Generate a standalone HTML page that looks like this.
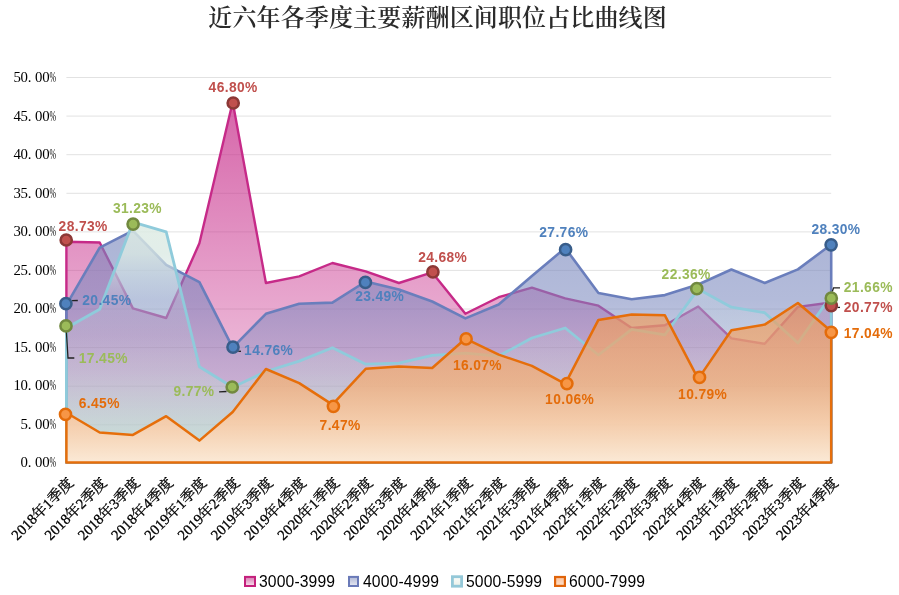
<!DOCTYPE html>
<html lang="zh-CN"><head><meta charset="utf-8"><title>近六年各季度主要薪酬区间职位占比曲线图</title>
<style>
html,body{margin:0;padding:0;background:#fff;}
body{width:899px;height:595px;overflow:hidden;}
svg{display:block;}
.title{font-family:"Liberation Serif","Noto Serif CJK SC",serif;font-size:24px;font-weight:600;fill:#2b2b2b;letter-spacing:0.13px;}
.yl{font-family:"Liberation Serif",serif;font-size:14.8px;fill:#000;}
.xl{font-family:"Liberation Serif","Noto Serif CJK SC",serif;font-size:14.7px;fill:#000;stroke:#000;stroke-width:0.3px;}
.lg{font-family:"Liberation Sans","Noto Sans CJK SC",sans-serif;font-size:15.7px;fill:#000;letter-spacing:0.12px;}
.dl{font-family:"Liberation Sans","Noto Sans CJK SC",sans-serif;font-size:13.8px;font-weight:bold;letter-spacing:0.38px;}
.grid line{stroke:#e2e2e2;stroke-width:1;}
.ld{stroke:#222;stroke-width:1.3;fill:none;}
</style></head><body>
<svg width="899" height="595" viewBox="0 0 899 595">
<defs>
<linearGradient id="gm" x1="0" y1="0" x2="0" y2="1"><stop offset="0" stop-color="#c8308c" stop-opacity="0.74"/><stop offset="1" stop-color="#c8308c" stop-opacity="0.18"/></linearGradient>
<linearGradient id="gb" x1="0" y1="0" x2="0" y2="1"><stop offset="0" stop-color="#7886bc" stop-opacity="0.62"/><stop offset="0.3" stop-color="#7a88be" stop-opacity="0.57"/><stop offset="0.56" stop-color="#7b89be" stop-opacity="0.38"/><stop offset="1" stop-color="#7b89be" stop-opacity="0.16"/></linearGradient>
<linearGradient id="gc" x1="0" y1="0" x2="0" y2="1">
<stop offset="0" stop-color="#deece4" stop-opacity="0.85"/>
<stop offset="0.13" stop-color="#dae9e3" stop-opacity="0.78"/>
<stop offset="0.33" stop-color="#cfe4e8" stop-opacity="0.2"/>
<stop offset="0.47" stop-color="#cce8e0" stop-opacity="0.12"/>
<stop offset="0.62" stop-color="#c4e8d8" stop-opacity="0.22"/>
<stop offset="0.75" stop-color="#bee8d4" stop-opacity="0.42"/>
<stop offset="0.92" stop-color="#bee8d4" stop-opacity="0.68"/>
<stop offset="1" stop-color="#bee8d4" stop-opacity="0.72"/>
</linearGradient>
<linearGradient id="lm" x1="0" y1="0" x2="0" y2="1"><stop offset="0" stop-color="#d678b0"/><stop offset="1" stop-color="#f8e2ee"/></linearGradient>
<linearGradient id="lb" x1="0" y1="0" x2="0" y2="1"><stop offset="0" stop-color="#b0b8d6"/><stop offset="1" stop-color="#e6e8f2"/></linearGradient>
<linearGradient id="lc" x1="0" y1="0" x2="0" y2="1"><stop offset="0" stop-color="#fbfcfa"/><stop offset="1" stop-color="#eaf0e8"/></linearGradient>
<linearGradient id="lo" x1="0" y1="0" x2="0" y2="1"><stop offset="0" stop-color="#fbc09a"/><stop offset="1" stop-color="#fde2cc"/></linearGradient>
<linearGradient id="go" x1="0" y1="0" x2="0" y2="1"><stop offset="0" stop-color="#f2964f" stop-opacity="0.62"/><stop offset="0.5" stop-color="#f3af79" stop-opacity="0.76"/><stop offset="0.75" stop-color="#fccba4" stop-opacity="0.85"/><stop offset="1" stop-color="#ffead6" stop-opacity="0.92"/></linearGradient>
</defs>
<rect width="899" height="595" fill="#fff"/>
<text class="title" x="437.6" y="26" text-anchor="middle">近六年各季度主要薪酬区间职位占比曲线图</text>
<g class="grid">
<line x1="66.4" y1="424.8" x2="831.2" y2="424.8"/>
<line x1="66.4" y1="386.2" x2="831.2" y2="386.2"/>
<line x1="66.4" y1="347.6" x2="831.2" y2="347.6"/>
<line x1="66.4" y1="309.0" x2="831.2" y2="309.0"/>
<line x1="66.4" y1="270.4" x2="831.2" y2="270.4"/>
<line x1="66.4" y1="231.9" x2="831.2" y2="231.9"/>
<line x1="66.4" y1="193.3" x2="831.2" y2="193.3"/>
<line x1="66.4" y1="154.7" x2="831.2" y2="154.7"/>
<line x1="66.4" y1="116.1" x2="831.2" y2="116.1"/>
<line x1="66.4" y1="77.5" x2="831.2" y2="77.5"/>
</g>
<g class="yl">
<text y="467.0" x="20.60 27.80 35.00 42.20 49.40">0.00<tspan textLength="6.6" lengthAdjust="spacingAndGlyphs">%</tspan></text>
<text y="428.5" x="20.60 27.80 35.00 42.20 49.40">5.00<tspan textLength="6.6" lengthAdjust="spacingAndGlyphs">%</tspan></text>
<text y="390.0" x="13.40 20.60 27.80 35.00 42.20 49.40">10.00<tspan textLength="6.6" lengthAdjust="spacingAndGlyphs">%</tspan></text>
<text y="351.5" x="13.40 20.60 27.80 35.00 42.20 49.40">15.00<tspan textLength="6.6" lengthAdjust="spacingAndGlyphs">%</tspan></text>
<text y="313.0" x="13.40 20.60 27.80 35.00 42.20 49.40">20.00<tspan textLength="6.6" lengthAdjust="spacingAndGlyphs">%</tspan></text>
<text y="274.5" x="13.40 20.60 27.80 35.00 42.20 49.40">25.00<tspan textLength="6.6" lengthAdjust="spacingAndGlyphs">%</tspan></text>
<text y="236.0" x="13.40 20.60 27.80 35.00 42.20 49.40">30.00<tspan textLength="6.6" lengthAdjust="spacingAndGlyphs">%</tspan></text>
<text y="197.5" x="13.40 20.60 27.80 35.00 42.20 49.40">35.00<tspan textLength="6.6" lengthAdjust="spacingAndGlyphs">%</tspan></text>
<text y="159.0" x="13.40 20.60 27.80 35.00 42.20 49.40">40.00<tspan textLength="6.6" lengthAdjust="spacingAndGlyphs">%</tspan></text>
<text y="120.5" x="13.40 20.60 27.80 35.00 42.20 49.40">45.00<tspan textLength="6.6" lengthAdjust="spacingAndGlyphs">%</tspan></text>
<text y="82.0" x="13.40 20.60 27.80 35.00 42.20 49.40">50.00<tspan textLength="6.6" lengthAdjust="spacingAndGlyphs">%</tspan></text>
</g>
<path d="M66.4 462.4 L66.4 241.8 L99.7 242.5 L132.9 308.4 L166.2 318.0 L199.4 243.3 L232.7 102.0 L265.9 283.0 L299.2 276.4 L332.4 263.0 L365.7 271.4 L398.9 283.0 L432.2 272.4 L465.4 313.8 L498.7 297.2 L531.9 287.6 L565.2 298.4 L598.4 305.7 L631.7 328.0 L664.9 325.3 L698.2 306.5 L731.4 338.4 L764.7 343.8 L797.9 306.9 L831.2 302.5 L831.2 462.4 Z" fill="url(#gm)" stroke="#c62a88" stroke-width="2.4" stroke-linejoin="round"/>
<path d="M66.4 462.4 L66.4 304.9 L99.7 247.6 L132.9 230.6 L166.2 264.9 L199.4 282.2 L232.7 347.7 L265.9 313.8 L299.2 303.8 L332.4 302.6 L365.7 281.5 L398.9 289.5 L432.2 301.5 L465.4 318.4 L498.7 304.5 L531.9 276.1 L565.2 248.0 L598.4 293.0 L631.7 299.2 L664.9 295.1 L698.2 284.5 L731.4 269.5 L764.7 283.0 L797.9 269.4 L831.2 244.5 L831.2 462.4 Z" fill="url(#gb)" stroke="#6a7ebc" stroke-width="2.6" stroke-linejoin="round"/>
<path d="M66.4 462.4 L66.4 328.0 L99.7 309.2 L132.9 222.2 L166.2 231.8 L199.4 366.7 L232.7 387.2 L265.9 371.5 L299.2 361.1 L332.4 347.7 L365.7 364.2 L398.9 363.1 L432.2 355.4 L465.4 353.1 L498.7 356.1 L531.9 338.0 L565.2 328.0 L598.4 355.0 L631.7 329.3 L664.9 334.8 L698.2 289.1 L731.4 307.2 L764.7 312.7 L797.9 343.0 L831.2 295.6 L831.2 462.4 Z" fill="url(#gc)" stroke="#8fcbdb" stroke-width="2.8" stroke-linejoin="round"/>
<path d="M66.4 462.4 L66.4 412.7 L99.7 432.5 L132.9 434.9 L166.2 416.2 L199.4 440.6 L232.7 412.0 L265.9 369.0 L299.2 383.1 L332.4 404.6 L365.7 368.8 L398.9 366.4 L432.2 368.0 L465.4 338.7 L498.7 354.6 L531.9 365.9 L565.2 383.9 L598.4 319.9 L631.7 314.6 L664.9 315.3 L698.2 378.9 L731.4 330.3 L764.7 324.6 L797.9 303.0 L831.2 331.2 L831.2 462.4 Z" fill="url(#go)" stroke="#e66e0a" stroke-width="2.5" stroke-linejoin="round"/>
<g class="ld">
<path d="M72.1 300.7 L77.8 300.5"/>
<path d="M66.4 332 L68 358 L74.3 358"/>
<path d="M219.1 391.9 L226.5 391.5"/>
<path d="M238.3 351.3 L241 351.3"/>
<path d="M832.3 291.5 L833.6 287.8 L840 287.8"/>
<path d="M837.5 307.4 L840 307.4"/>
</g>
<circle cx="66.2" cy="240.0" r="5.6" fill="#c0504d" stroke="#8c3836" stroke-width="2.5"/>
<circle cx="233.2" cy="103.0" r="5.6" fill="#c0504d" stroke="#8c3836" stroke-width="2.5"/>
<circle cx="432.9" cy="271.9" r="5.6" fill="#c0504d" stroke="#8c3836" stroke-width="2.5"/>
<circle cx="831.3" cy="305.6" r="5.6" fill="#c0504d" stroke="#8c3836" stroke-width="2.5"/>
<circle cx="65.9" cy="303.7" r="5.6" fill="#4f81bd" stroke="#385d8a" stroke-width="2.5"/>
<circle cx="233.0" cy="347.1" r="5.6" fill="#4f81bd" stroke="#385d8a" stroke-width="2.5"/>
<circle cx="365.4" cy="282.4" r="5.6" fill="#4f81bd" stroke="#385d8a" stroke-width="2.5"/>
<circle cx="565.6" cy="249.7" r="5.6" fill="#4f81bd" stroke="#385d8a" stroke-width="2.5"/>
<circle cx="831.1" cy="244.8" r="5.6" fill="#4f81bd" stroke="#385d8a" stroke-width="2.5"/>
<circle cx="66.0" cy="325.9" r="5.6" fill="#9bbb59" stroke="#71893f" stroke-width="2.5"/>
<circle cx="133.1" cy="224.1" r="5.6" fill="#9bbb59" stroke="#71893f" stroke-width="2.5"/>
<circle cx="232.2" cy="387.0" r="5.6" fill="#9bbb59" stroke="#71893f" stroke-width="2.5"/>
<circle cx="696.8" cy="288.7" r="5.6" fill="#9bbb59" stroke="#71893f" stroke-width="2.5"/>
<circle cx="831.3" cy="298.2" r="5.6" fill="#9bbb59" stroke="#71893f" stroke-width="2.5"/>
<circle cx="65.5" cy="414.3" r="5.6" fill="#f79646" stroke="#e46c0a" stroke-width="2.5"/>
<circle cx="333.4" cy="406.3" r="5.6" fill="#f79646" stroke="#e46c0a" stroke-width="2.5"/>
<circle cx="466.1" cy="338.9" r="5.6" fill="#f79646" stroke="#e46c0a" stroke-width="2.5"/>
<circle cx="566.9" cy="383.6" r="5.6" fill="#f79646" stroke="#e46c0a" stroke-width="2.5"/>
<circle cx="699.5" cy="377.4" r="5.6" fill="#f79646" stroke="#e46c0a" stroke-width="2.5"/>
<circle cx="831.3" cy="332.3" r="5.6" fill="#f79646" stroke="#e46c0a" stroke-width="2.5"/>
<g class="dl">
<text x="58.6" y="230.9" fill="#c0504d">28.73%</text>
<text x="208.6" y="91.7" fill="#c0504d">46.80%</text>
<text x="418.2" y="261.9" fill="#c0504d">24.68%</text>
<text x="843.8" y="311.7" fill="#c0504d">20.77%</text>
<text x="82.3" y="305.0" fill="#4f81bd">20.45%</text>
<text x="244.1" y="354.9" fill="#4f81bd">14.76%</text>
<text x="355.2" y="301.2" fill="#4f81bd">23.49%</text>
<text x="539.3" y="236.9" fill="#4f81bd">27.76%</text>
<text x="811.4" y="233.6" fill="#4f81bd">28.30%</text>
<text x="78.8" y="363.4" fill="#9bbb59">17.45%</text>
<text x="112.9" y="212.6" fill="#9bbb59">31.23%</text>
<text x="173.4" y="396.2" fill="#9bbb59">9.77%</text>
<text x="661.6" y="278.7" fill="#9bbb59">22.36%</text>
<text x="843.8" y="291.8" fill="#9bbb59">21.66%</text>
<text x="78.8" y="407.7" fill="#e46c0a">6.45%</text>
<text x="319.6" y="430.1" fill="#e46c0a">7.47%</text>
<text x="452.9" y="369.9" fill="#e46c0a">16.07%</text>
<text x="545.1" y="404.1" fill="#e46c0a">10.06%</text>
<text x="678.1" y="398.9" fill="#e46c0a">10.79%</text>
<text x="843.8" y="337.7" fill="#e46c0a">17.04%</text>
</g>
<g class="xl">
<text transform="translate(74.4 483.8) rotate(-45)" text-anchor="end" x="0" y="0">2018年1季度</text>
<text transform="translate(107.7 483.8) rotate(-45)" text-anchor="end" x="0" y="0">2018年2季度</text>
<text transform="translate(140.9 483.8) rotate(-45)" text-anchor="end" x="0" y="0">2018年3季度</text>
<text transform="translate(174.2 483.8) rotate(-45)" text-anchor="end" x="0" y="0">2018年4季度</text>
<text transform="translate(207.4 483.8) rotate(-45)" text-anchor="end" x="0" y="0">2019年1季度</text>
<text transform="translate(240.7 483.8) rotate(-45)" text-anchor="end" x="0" y="0">2019年2季度</text>
<text transform="translate(273.9 483.8) rotate(-45)" text-anchor="end" x="0" y="0">2019年3季度</text>
<text transform="translate(307.2 483.8) rotate(-45)" text-anchor="end" x="0" y="0">2019年4季度</text>
<text transform="translate(340.4 483.8) rotate(-45)" text-anchor="end" x="0" y="0">2020年1季度</text>
<text transform="translate(373.7 483.8) rotate(-45)" text-anchor="end" x="0" y="0">2020年2季度</text>
<text transform="translate(406.9 483.8) rotate(-45)" text-anchor="end" x="0" y="0">2020年3季度</text>
<text transform="translate(440.2 483.8) rotate(-45)" text-anchor="end" x="0" y="0">2020年4季度</text>
<text transform="translate(473.4 483.8) rotate(-45)" text-anchor="end" x="0" y="0">2021年1季度</text>
<text transform="translate(506.7 483.8) rotate(-45)" text-anchor="end" x="0" y="0">2021年2季度</text>
<text transform="translate(539.9 483.8) rotate(-45)" text-anchor="end" x="0" y="0">2021年3季度</text>
<text transform="translate(573.2 483.8) rotate(-45)" text-anchor="end" x="0" y="0">2021年4季度</text>
<text transform="translate(606.4 483.8) rotate(-45)" text-anchor="end" x="0" y="0">2022年1季度</text>
<text transform="translate(639.7 483.8) rotate(-45)" text-anchor="end" x="0" y="0">2022年2季度</text>
<text transform="translate(672.9 483.8) rotate(-45)" text-anchor="end" x="0" y="0">2022年3季度</text>
<text transform="translate(706.2 483.8) rotate(-45)" text-anchor="end" x="0" y="0">2022年4季度</text>
<text transform="translate(739.4 483.8) rotate(-45)" text-anchor="end" x="0" y="0">2023年1季度</text>
<text transform="translate(772.7 483.8) rotate(-45)" text-anchor="end" x="0" y="0">2023年2季度</text>
<text transform="translate(805.9 483.8) rotate(-45)" text-anchor="end" x="0" y="0">2023年3季度</text>
<text transform="translate(839.2 483.8) rotate(-45)" text-anchor="end" x="0" y="0">2023年4季度</text>
</g>
<rect x="245.00" y="576.90" width="10.00" height="9.10" fill="url(#lm)" stroke="#c4207c" stroke-width="2.0"/>
<text class="lg" x="259.0" y="586.8">3000-3999</text>
<rect x="349.00" y="576.90" width="9.00" height="9.10" fill="url(#lb)" stroke="#6a7ab8" stroke-width="2.0"/>
<text class="lg" x="363.0" y="586.8">4000-4999</text>
<rect x="452.40" y="576.70" width="9.20" height="9.50" fill="url(#lc)" stroke="#94c8d8" stroke-width="2.8"/>
<text class="lg" x="466.0" y="586.8">5000-5999</text>
<rect x="555.10" y="577.00" width="9.80" height="8.90" fill="url(#lo)" stroke="#e0640a" stroke-width="2.2"/>
<text class="lg" x="569.0" y="586.8">6000-7999</text>
</svg></body></html>
